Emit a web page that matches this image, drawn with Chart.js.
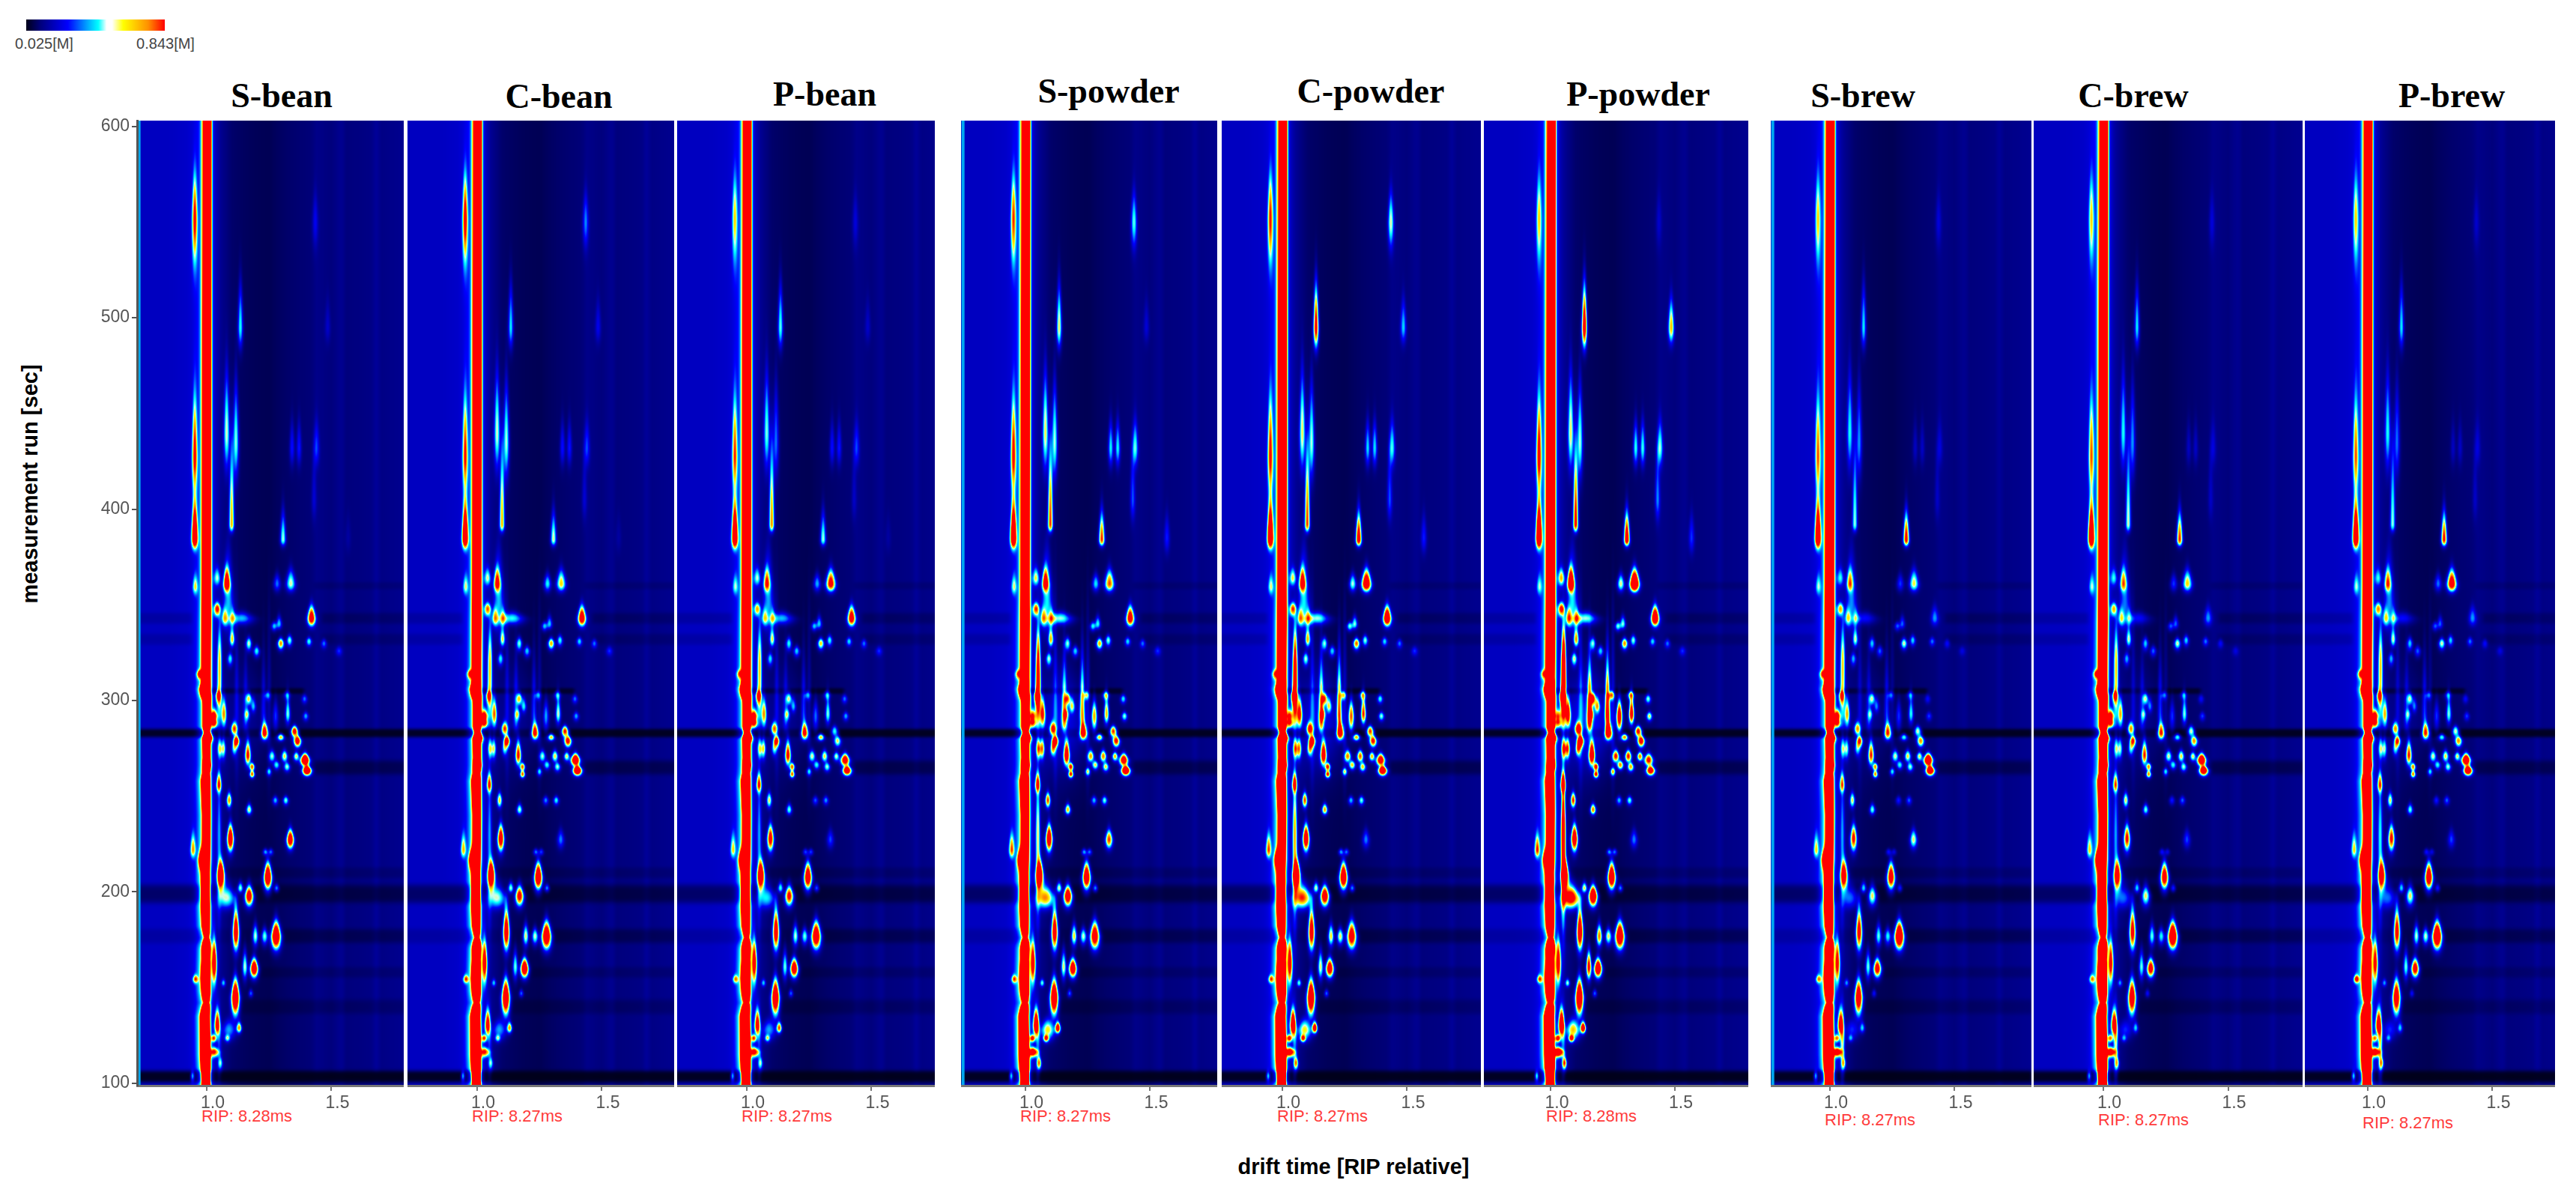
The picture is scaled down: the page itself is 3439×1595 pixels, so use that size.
<!DOCTYPE html>
<html><head><meta charset="utf-8">
<script src="https://cdn.jsdelivr.net/npm/chart.js@4"></script>
<style>
html,body{margin:0;padding:0;background:#fff}
#root{position:relative;width:3439px;height:1595px;overflow:hidden;background:#fff}
canvas{position:absolute}
.t{position:absolute;white-space:nowrap;transform:translate(-50%,-50%)}
.title{font:bold 46px "Liberation Serif",serif;color:#000}
.rip{font:22px "Liberation Sans",sans-serif;color:#ff3b3b;transform:translateY(-50%)}
.ax{font:bold 29px "Liberation Sans",sans-serif;color:#000}
.cb{font:20px "Liberation Sans",sans-serif;color:#444}
#bar{position:absolute;left:35px;top:26px;width:185px;height:15px;background:linear-gradient(90deg,#000018 0%,#00007a 10%,#0000ff 30%,#00b0ff 45%,#00ffff 52%,#ffffff 58%,#ffffff 62%,#ffff00 70%,#ff9000 88%,#ff0000 100%)}
</style></head><body><div id="root"><div id="bar"></div></div>
<script>
// ---- labels and tick values
const panelNames=["S-bean","C-bean","P-bean","S-powder","C-powder","P-powder","S-brew","C-brew","P-brew"];
const ripLabels=["RIP: 8.28ms","RIP: 8.27ms","RIP: 8.27ms","RIP: 8.27ms","RIP: 8.27ms","RIP: 8.28ms","RIP: 8.27ms","RIP: 8.27ms","RIP: 8.27ms"];
const driftTicks=[1.0,1.5];
const runTicks=[100,200,300,400,500,600];
const colorbarLabels=["0.025[M]","0.843[M]"];
const yAxisLabel="measurement run [sec]";
const xAxisLabel="drift time [RIP relative]";
// ---- axis ranges of each panel (drift time, RIP relative)
const panelDriftMin=[.7207,.7207,.7207,.7417,.7568,.7297,.7628,.7207,.7477];
const panelDriftMax=[1.7898,1.7898,1.7538,1.7688,1.7958,1.7958,1.8078,1.7988,1.7508];
const runMin=98.8, runMax=603;
const panelsWithEdgeLine=[0,3,6];
// ---- background signal: level along drift time
const baselineDrift=[.72,.74,.85,.92,.96,1.02,1.06,1.10,1.18,1.25,1.3,1.42,1.44,1.5,1.54,1.56,1.66,1.68,1.7,1.81];
const baselineLevel=[.175,.175,.175,.185,.21,.17,.115,.075,.06,.055,.07,.09,.11,.095,.12,.095,.105,.13,.105,.12];
// ---- dark horizontal bands: run, half width, remaining signal, drift from, drift to
const darkBands=[[103.5,3.3,.06,.7,1.82],[283,2.4,.08,.7,1.82],[199,5,.42,.7,1.82],[177,4,.55,1.25,1.82],[177,4,.8,.7,1.25],
[210,3,.75,1.05,1.82],[158,3,.75,1.15,1.82],[140,4,.7,1.1,1.82],[265,4,.5,1.42,1.82],[305,1.6,.25,1.01,1.4],
[343,3,.8,.7,.95],[343,3,.7,1.45,1.82],[332,3,.82,.7,.95],[332,3,.75,1.45,1.82],[360,2,.8,1.42,1.82]];
// ---- reactant ion peak: run, drift centre, height, shoulder height
const ripProfile=[[98,.998,3,.36],[115,.995,9,.48],[135,.993,7,.44],[142,.999,.75,.28],[148,.997,4,.4],[155,.995,6,.4],[165,.997,3,.4],[170,.998,5,.4],[176,1,.7,.24],[182,.997,2.5,.36],[195,.995,5,.4],[210,.995,3.5,.36],[217,.998,2.5,.36],[240,.999,2.8,.36],[258,.996,5,.4],[262,.998,2,.32],[266,1,4,.32],[270,1,2.2,.32],[280,.999,2.6,.32],[283,1,1,.24],[286,1,2.4,.32],[300,1,2.5,.32],[306,.995,7,.4],[312,.998,2.5,.32],[340,1,2.5,.32],[360,1,2.5,.24],[603,1.003,2.5,.2]];
// ---- peaks. Columns: drift, run, spread below, spread above, drift spread, then height in the nine panels
const lateRunPeaks=[
[.952,385,4,18,.007,1.3,1.3,1.3,1.35,1.35,1.4,1.3,1.3,1.3],
[.952,428,14,30,.006,.8,.75,.7,.8,.8,.85,.65,.65,.65],
[.952,552,18,22,.006,.8,.85,.5,.7,.75,.5,.5,.5,.5],
[.983,320,6,380,.005,.36,.36,.36,.36,.36,.36,.36,.36,.36],
[1.016,300,5,500,.004,.22,.22,.22,.22,.22,.22,.22,.22,.22],
[1.10,392,3,40,.006,.7,.7,.75,.85,.85,.95,.5,.55,.5],
[1.08,440,14,30,.007,.5,.5,.45,.55,.55,.55,.4,.4,.4],
[1.117,435,14,30,.007,.48,.5,.3,.5,.5,.5,.33,.33,.3],
[1.135,495,8,22,.006,.45,.42,.48,.6,1,1.1,.42,.42,.42],
[1.485,495,6,14,.007,.1,.15,.1,.12,.35,.65,0,0,0],
[1.435,550,10,15,.007,.15,.28,.12,.42,.5,.1,.12,.12,.1],
[1.342,432,7,14,.006,.22,.22,.22,.42,.4,.45,.12,.12,.12],
[1.37,432,7,14,.006,.22,.22,.22,.42,.4,.45,.12,.12,.12],
[1.44,432,7,14,.007,.22,.22,.22,.42,.4,.45,.12,.12,.12],
[1.306,384,2.5,14,.007,.5,.55,.5,.85,1.05,1.1,.95,.85,.9],
[1.43,405,8,25,.006,.12,.12,.1,.25,.25,.3,.1,.1,.1],
[1.567,385,6,12,.007,.05,.05,.05,.2,.2,.22,0,0,0]];
const upperClusterPeaks=[
[1.08,361,3,8,.008,1,.8,.7,.9,.9,1.2,.6,.6,.65],
[1.087,350,10,25,.014,.32,.32,.3,.36,.36,.36,.28,.26,.28],
[1.042,348,3,3,.008,.85,.7,.6,.75,.75,.85,.6,.6,.65],
[1.042,364,3,5,.008,.42,.45,.42,.5,.5,.6,.35,.35,.35],
[.954,359.5,3,6,.006,.45,.4,.35,.4,.4,.35,.35,.35,.35],
[1.072,343,3,5,.008,.5,.55,.45,.55,.55,.65,.45,.45,.45],
[1.104,343,3,5,.007,.42,.48,.4,.5,.5,.55,.36,.33,.36],
[1.14,343,2.5,3,.03,.34,.4,.34,.45,.45,.45,.2,.2,.2],
[1.337,361,3,7,.012,.5,.6,.95,.75,1.2,1.5,.55,.6,1.05],
[1.282,361,3,5,.009,.3,.42,.35,.4,.5,.55,.25,.25,.3],
[1.42,343,3,6,.01,1.05,1.1,1.05,1.05,1.25,1.3,.3,.3,.3],
[1.27,339,2,2,.007,.4,.4,.4,.45,.5,.5,.3,.3,.3],
[1.29,340,2,4,.007,.4,.4,.4,.45,.5,.5,.3,.3,.3],
[1.102,332,3,6,.006,.65,.6,.6,.7,.7,.75,.55,.55,.55],
[1.169,330,3,3,.007,.55,.5,.45,.5,.5,.5,.4,.4,.4],
[1.2,326,2.5,2.5,.008,.45,.4,.4,.4,.4,.4,.3,.3,.3],
[1.297,330,2.5,2.5,.008,.75,.7,.65,.7,.8,.75,.55,.55,.55],
[1.332,331.6,2.5,2.5,.007,.5,.45,.45,.5,.5,.5,.4,.4,.4],
[1.41,331,2,2,.007,.45,.4,.4,.4,.4,.4,.3,.3,.3],
[1.47,330,2,2,.007,.3,.3,.3,.3,.3,.3,.2,.2,.2],
[1.53,326,2,2,.008,.2,.2,.2,.2,.2,.2,.12,.12,.12],
[1.052,322,18,18,.005,.45,.45,.45,.5,.55,.75,.45,.45,.45],
[1.094,322,3,3,.007,.42,.42,.4,.5,.5,.55,.35,.35,.35]];
const middleClusterPeaks=[
[.972,314,2,2,.007,.8,.7,.6,.6,.6,.6,.7,.7,.7],
[.99,306,3,3,.01,1.4,1.2,1,1.1,1.1,1.1,1.1,1.1,1.1],
[1.047,303,3,3,.006,.75,.7,.8,.9,.9,1,.7,.7,.7],
[1.069,293,5,8,.006,.7,.75,.7,.85,.9,1,.65,.65,.65],
[1.169,301,2.5,3,.007,.55,.6,.5,.65,.7,.85,.5,.5,.5],
[1.162,293,2.5,2.5,.006,.42,.42,.42,.5,.5,.6,.35,.35,.35],
[1.187,297,2.5,4,.006,.35,.4,.35,.5,.5,.6,.3,.3,.3],
[1.244,303,2,2,.007,.35,.35,.35,.5,.55,.7,.3,.3,.3],
[1.322,303,2,2,.008,.3,.35,.35,.5,.55,.6,.3,.3,.3],
[1.392,301,2,2,.007,.3,.3,.3,.42,.45,.5,.2,.2,.2],
[1.325,293,4,9,.006,.5,.55,.5,.7,.9,1.1,.45,.5,.5],
[1.397,292,2,2,.007,.35,.35,.35,.5,.5,.6,.25,.25,.25],
[1.029,292,2,3,.008,.95,.9,.9,.7,.7,.6,.9,.9,.9],
[1.029,288.5,2,2,.008,.9,.85,.85,.7,.7,.6,.8,.8,.8],
[1.05,300,10,30,.007,.3,.3,.3,.8,.85,1.05,.3,.3,.3],
[1.156,290,5,30,.006,.2,.25,.2,.6,.7,.9,.2,.2,.2],
[1.228,293,6,30,.006,.2,.25,.25,.7,.8,1,.25,.25,.25],
[1.276,292,6,8,.007,.25,.35,.3,.7,.8,1.1,.25,.25,.25],
[1.15,290,20,25,.06,.07,.07,.07,.18,.18,.22,.06,.06,.06],
[1.12,300,30,45,.005,.14,.14,.14,.2,.2,.22,.12,.12,.12],
[1.25,300,30,45,.005,.1,.1,.1,.16,.16,.18,.08,.08,.08]];
const lowerClusterPeaks=[
[1.11,285,2.5,3.5,.008,.8,.8,.75,.85,.9,1,.7,.7,.7],
[1.232,283,2.5,5,.009,1.05,1,1,1.1,1.1,1.2,.9,.9,.9],
[1.352,284,2.5,2.5,.009,1.05,.95,.5,.9,.9,1,.6,.6,.6],
[1.007,281,2,2.5,.01,1.2,1.1,1.1,1.1,1.1,1.1,1.1,1.1,1.1],
[1.119,279,2.5,2.5,.007,1,1,.9,1,1,1.1,.8,.8,.8],
[1.297,281,1.5,1.5,.009,.7,.7,.7,.7,.75,.8,.5,.5,.5],
[1.364,279,2.5,2.5,.009,1.05,.95,.55,.9,.9,1,.7,.7,.7],
[1.052,275,4,5,.005,.55,.55,.55,.75,.75,.85,.5,.5,.5],
[1.067,275,4,5,.005,.55,.55,.6,.75,.75,.85,.5,.5,.5],
[1.11,275,3,4,.006,.42,.42,.42,.6,.6,.7,.4,.4,.4],
[1.165,271.5,4,7,.007,.9,.9,.95,1.1,1.1,1.2,.85,.85,.85],
[1.182,265.5,1.8,1.8,.006,.85,.85,.85,.95,.95,1,.8,.8,.8],
[1.182,261.6,1.5,1.5,.006,.85,.85,.85,.95,.95,1,.8,.8,.8],
[1.262,271,2.5,3,.008,.5,.5,.55,.7,.75,.9,.55,.55,.55],
[1.312,271,2.5,3,.008,.6,.6,.6,.75,.8,.9,.6,.6,.6],
[1.28,266.5,2,2,.008,.45,.45,.45,.6,.65,.75,.45,.45,.45],
[1.359,271,2,2,.007,.6,.6,.55,.7,.7,.8,.6,.6,.6],
[1.25,263,1.8,1.8,.006,.45,.45,.45,.6,.6,.7,.45,.45,.45],
[1.322,265.5,2,2,.008,.5,.5,.5,.6,.65,.7,.5,.5,.5],
[1.394,269,2.4,3,.011,1.4,1.3,1.1,1.1,1.1,.9,1.4,1.3,1.3],
[1.402,263.6,2,2,.011,1.4,1.4,1.2,1.4,1.3,1.1,1.3,1.3,1.3],
[1.049,256,3,6,.006,.8,.8,.8,.85,.85,.9,.7,.7,.7]];
const run200Peaks=[
[.945,222,3,8,.006,.6,.55,.5,.7,.7,.75,.5,.5,.5],
[.98,217,4,5,.008,1.2,1.2,1.1,1,1,1,1.1,1.1,1.1],
[1.057,209,6,7,.009,1.25,1.2,1.15,1.2,1.3,1.2,1,1,1],
[1.05,230,32,30,.005,.3,.3,.3,.55,.7,1.3,.3,.3,.4],
[1.09,248,3,4,.006,.75,.65,.6,.85,.85,.9,.6,.6,.6],
[1.095,228,5,7,.008,1.2,1.1,1,1.2,1.2,1.2,.9,.9,.9],
[1.17,243,2,3,.007,.6,.55,.5,.7,.75,.8,.5,.5,.5],
[1.275,248,2,2,.007,.4,.35,.3,.4,.4,.4,.25,.25,.25],
[1.317,248,2,2,.007,.5,.45,.35,.5,.5,.5,.3,.3,.3],
[1.335,227.4,3.5,5,.009,1.15,.3,.25,.8,.3,.3,.55,.25,.25],
[1.235,221,1.5,1.5,.006,.4,.35,.3,.4,.4,.4,.25,.25,.25],
[1.257,221,1.5,1.5,.006,.35,.3,.3,.35,.35,.35,.2,.2,.2],
[1.245,208,5,7,.01,1.3,1.3,1.2,1.25,1.3,1.3,1.1,1.1,1.2],
[1.135,202,2,3,.007,.55,.55,.5,.6,.6,.65,.45,.45,.45],
[1.17,198,4,5,.011,1.1,1,.95,1.2,1.2,1.4,.6,.6,.6],
[1.28,202,1.5,2,.006,.4,.4,.35,.4,.4,.4,.3,.3,.3],
[1.08,197,4,6,.025,.5,.5,.4,.7,.8,1,.3,.3,.3]];
const lowRunPeaks=[
[1.117,179,7,12,.008,1.15,1.15,1.1,1.1,1.1,1.2,1,1,1],
[1.195,177,4,6,.007,.55,.6,.55,.65,.65,.8,.5,.5,.55],
[1.232,177,3.5,4,.008,.5,.55,.5,.55,.6,.6,.45,.45,.55],
[1.278,177,5,7,.012,1.35,1.3,1.25,1.15,1.1,1.3,1.4,1.4,1.4],
[1.03,163,8,12,.006,1.1,1,1,1,1,1,.9,.9,.9],
[1.153,161,5,8,.006,.55,.5,.5,.6,.6,1,.5,.5,.5],
[1.19,160,3.5,5,.01,1.25,1.3,1.2,1.2,1.15,1.3,1.05,1.05,1.05],
[.955,154.5,1.5,2,.006,.7,.7,.6,.7,.7,.7,.6,.6,.9],
[1.067,152.5,1.5,2,.005,.4,.4,.4,.5,.5,.55,.35,.35,.35],
[1.115,145,7,9,.01,1.35,1.3,1.3,1.35,1.35,1.35,1.15,1.15,1.15],
[1.177,147,1.5,2,.005,.35,.35,.35,.35,.35,.35,.25,.25,.25],
[1.042,130.5,4,8,.006,1,1,1,1.3,1.3,1.4,1,1,1],
[1.13,129,2,3,.006,.75,.75,.85,1.2,1.2,1.3,.4,.4,.4],
[1.028,123.7,1.5,1.5,.006,.8,.8,.8,.95,.95,1,.7,.7,.7],
[1.083,123.7,1.5,1.5,.006,.45,.45,.5,.85,.85,.95,.3,.3,.3],
[1.03,116.5,2,2,.012,.75,.75,.85,1,1,1.2,1,1,1],
[1.055,110.7,2.5,3,.005,.42,.42,.45,.7,.7,.8,.5,.5,.55],
[.943,104,2.5,2.5,.004,.5,.5,.5,.55,.55,.6,.5,.5,.55],
[1.09,128,4,5,.018,.3,.3,.3,.55,.55,.6,.2,.2,.2],
[1.05,125,15,15,.005,.2,.2,.2,.3,.3,.3,.55,.55,.6]];
const allPeakRows=[...lateRunPeaks,...upperClusterPeaks,...middleClusterPeaks,...lowerClusterPeaks,...run200Peaks,...lowRunPeaks];
// ---- colour scale: signal level and colour
const colorLevels=[0,.08,.25,.42,.5,.58,.7,.8,2];
const colorStops=[[0,0,24],[0,0,112],[0,0,255],[0,255,255],[205,255,235],[255,255,0],[255,130,0],[255,0,0],[255,0,0]];

// ---- page layout in pixels
const panelLeft=[183,544,904,1283,1631,1981,2364,2715,3077];
const panelRight=[539,900,1248,1625,1977,2334,2712,3074,3411];
const titleCentreX=[376,746,1101,1480,1830,2187,2487,2848,3273];
const titleCentreY=[127,128,125,121,121,125,127,127,127];
const ripLabelX=[269,630,990,1362,1705,2064,2436,2801,3154];
const ripLabelY=[1490,1490,1490,1490,1490,1490,1495,1495,1499];
const areaTop=161, areaBottom=1449, canvasBottom=1510, headRoom=30;

const lut=new Uint8ClampedArray(3*2048);
for(let i=0;i<2048;i++){const v=i/1024;let k=0;while(k<colorLevels.length-2&&v>colorLevels[k+1])k++;
 const f=Math.min(1,(v-colorLevels[k])/(colorLevels[k+1]-colorLevels[k]));
 for(let c=0;c<3;c++)lut[3*i+c]=colorStops[k][c]+(colorStops[k+1][c]-colorStops[k][c])*f;}
function lerp(xs,ys,x){if(x<=xs[0])return ys[0];for(let i=1;i<xs.length;i++)if(x<=xs[i]){const f=(x-xs[i-1])/(xs[i]-xs[i-1]);return ys[i-1]+(ys[i]-ys[i-1])*f;}return ys[ys.length-1];}
function soften(field,W,H){const t=new Float32Array(field.length);
 for(let pass=0;pass<2;pass++){
  for(let j=0;j<H;j++)for(let i=0;i<W;i++){const n=j*W+i;t[n]=(field[i>0?n-1:n]+field[n]+field[i<W-1?n+1:n])/3;}
  for(let j=0;j<H;j++)for(let i=0;i<W;i++){const n=j*W+i;field[n]=(t[j>0?n-W:n]+t[n]+t[j<H-1?n+W:n])/3;}
 }}
const heatPlugin={id:'heat',beforeDatasetsDraw(chart){
 const a=chart.chartArea,xS=chart.scales.x,yS=chart.scales.y;
 const L=Math.round(a.left),T=Math.round(a.top),W=Math.round(a.right-a.left),H=Math.round(a.bottom-a.top);
 const field=new Float32Array(W*H);
 const dtAt=[],rtAt=[];
 for(let i=0;i<W;i++)dtAt[i]=xS.getValueForPixel(L+i+.5);
 for(let j=0;j<H;j++)rtAt[j]=yS.getValueForPixel(T+j+.5);
 const baseRow=dtAt.map(d=>lerp(baselineDrift,baselineLevel,d));
 for(let j=0;j<H;j++)for(let i=0;i<W;i++)field[j*W+i]=baseRow[i];
 for(const [run,hw,keep,d0,d1] of darkBands){for(let j=0;j<H;j++){const q=(rtAt[j]-run)/hw;if(Math.abs(q)>2.2)continue;
   const m=1-(1-keep)*Math.exp(-q*q*q*q);
   for(let i=0;i<W;i++){const d=dtAt[i];if(d<d0||d>d1)continue;const e=Math.min(1,Math.min(d-d0,d1-d)/.02);field[j*W+i]*=1-(1-m)*e;}}}
 const pxPerDt=Math.abs(xS.getPixelForValue(2)-xS.getPixelForValue(1));
 const pxPerRt=Math.abs(yS.getPixelForValue(101)-yS.getPixelForValue(100));
 const rd=chart.data.datasets[1].data,ripRun=rd.map(p=>p.y),ripX=rd.map(p=>p.x),ripH=rd.map(p=>p.height),ripS=rd.map(p=>p.shoulder);
 for(let j=0;j<H;j++){const r=rtAt[j],cx=xS.getPixelForValue(lerp(ripRun,ripX,r))-L,h=lerp(ripRun,ripH,r),s=lerp(ripRun,ripS,r);
  const i0=Math.max(0,Math.floor(cx-30)),i1=Math.min(W-1,Math.ceil(cx+30));
  for(let i=i0;i<=i1;i++){const dx=i+.5-cx,dl=dx+2;field[j*W+i]+=h*Math.exp(-.5*dx*dx/6.2)+s*Math.exp(-.5*dl*dl/36);}}
 for(const p of chart.data.datasets[0].data){if(!p.height)continue;
  const cx=xS.getPixelForValue(p.x)-L,cy=yS.getPixelForValue(p.y)-T;
  const long=p.spreadUp>=100;
  const sx=p.spreadDrift*pxPerDt,su=p.spreadUp*pxPerRt*(long?1:.72),sd=p.spreadDown*pxPerRt*(long?1:.85);
  const j0=Math.max(0,Math.floor(cy-4*su)),j1=Math.min(H-1,Math.ceil(cy+4*sd));
  for(let j=j0;j<=j1;j++){const dy=j+.5-cy,sy=dy<0?su:sd;
   const taper=dy<0?Math.max(.45,1-.25*(-dy/su)):1,sxx=sx*taper;
   const i0=Math.max(0,Math.floor(cx-4*sxx)),i1=Math.min(W-1,Math.ceil(cx+4*sxx));
   const ey=Math.exp(-.5*dy*dy/(sy*sy));
   for(let i=i0;i<=i1;i++){const dx=i+.5-cx;field[j*W+i]+=p.height*.95*ey*Math.exp(-.5*dx*dx/(sxx*sxx));}}}
 soften(field,W,H);
 const img=chart.ctx.createImageData(W,H);
 for(let n=0;n<W*H;n++){const k=Math.min(2047,Math.max(0,Math.round(field[n]*1024)))*3;
  img.data[4*n]=lut[k];img.data[4*n+1]=lut[k+1];img.data[4*n+2]=lut[k+2];img.data[4*n+3]=255;}
 chart.ctx.putImageData(img,L,T);
}};

const root=document.getElementById('root');
function addText(cls,txt,x,y,extra){const d=document.createElement('div');d.className=cls;d.textContent=txt;d.style.left=x+'px';d.style.top=y+'px';if(extra)d.style.cssText+=extra;root.appendChild(d);return d;}
addText('t cb',colorbarLabels[0],59,58);
addText('t cb',colorbarLabels[1],221,58);
addText('t ax',yAxisLabel,40,646,'transform:translate(-50%,-50%) rotate(-90deg);');
addText('t ax',xAxisLabel,1807,1557);

panelNames.forEach((name,idx)=>{
 addText('t title',name,titleCentreX[idx],titleCentreY[idx]);
 addText('rip',ripLabels[idx],ripLabelX[idx],ripLabelY[idx],'position:absolute;white-space:nowrap;');
 const first=idx===0;
 const left=first?0:panelLeft[idx], w=panelRight[idx]-left, top=areaTop-headRoom, h=canvasBottom-top;
 const cv=document.createElement('canvas');cv.width=w;cv.height=h;cv.style.left=left+'px';cv.style.top=top+'px';cv.style.width=w+'px';cv.style.height=h+'px';root.appendChild(cv);
 const peakPoints=allPeakRows.map(r=>({x:r[0],y:r[1],spreadDown:r[2],spreadUp:r[3],spreadDrift:r[4],height:r[5+idx]}));
 const ripPoints=ripProfile.map(r=>({y:r[0],x:r[1],height:r[2],shoulder:r[3]}));
 const datasets=[{label:name+' peaks',data:peakPoints,pointRadius:0,showLine:false},{label:name+' RIP',data:ripPoints,pointRadius:0,showLine:false}];
 if(panelsWithEdgeLine.includes(idx)){const e=panelDriftMin[idx]+.008;datasets.push({label:'edge',data:[{x:e,y:runMin},{x:e,y:runMax}],showLine:true,borderColor:'#00a8f0',borderWidth:4,pointRadius:0,clip:false});}
 new Chart(cv,{type:'scatter',data:{datasets},plugins:[heatPlugin],options:{
  responsive:false,animation:false,devicePixelRatio:1,events:[],
  layout:{padding:{top:headRoom,left:0,right:0,bottom:0}},
  plugins:{legend:{display:false},tooltip:{enabled:false},title:{display:false}},
  scales:{
   x:{type:'linear',min:panelDriftMin[idx],max:panelDriftMax[idx],afterBuildTicks:s=>{s.ticks=driftTicks.map(v=>({value:v}));},afterFit:s=>{s.height=canvasBottom-areaBottom;},
      border:{color:'#777',width:3,z:1},grid:{display:true,drawOnChartArea:false,drawTicks:true,tickLength:7,color:'#777',lineWidth:2,z:1},
      ticks:{autoSkip:false,maxRotation:0,padding:3,labelOffset:8,color:'#555',font:{family:'Liberation Sans',size:23},callback:v=>Number(v).toFixed(1)}},
   y:{type:'linear',display:first,min:runMin,max:runMax,afterBuildTicks:s=>{s.ticks=runTicks.map(v=>({value:v}));},afterFit:s=>{if(first)s.width=panelLeft[0];},
      border:{color:'#555',width:3,z:1},grid:{display:true,drawOnChartArea:false,drawTicks:true,tickLength:7,color:'#555',lineWidth:2,z:1},
      ticks:{autoSkip:false,maxRotation:0,padding:3,color:'#555',font:{family:'Liberation Sans',size:23},callback:v=>String(v)}}
  }}});
});
</script></body></html>
